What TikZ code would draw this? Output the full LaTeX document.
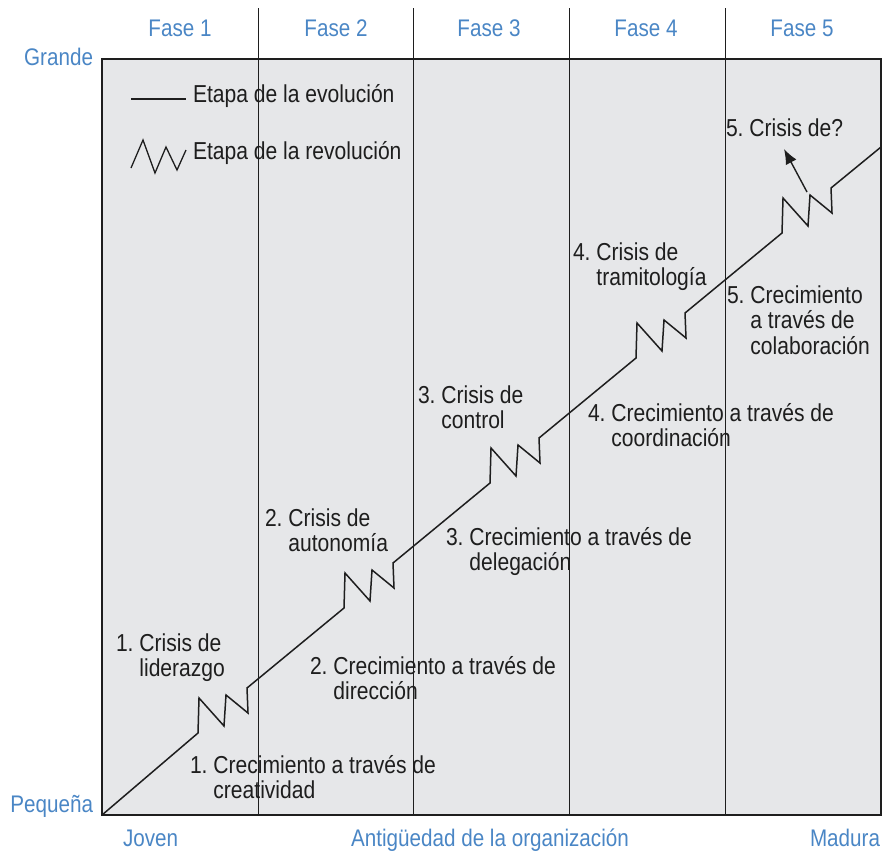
\documentclass[tikz,border=0pt]{standalone}
\usepackage{fontspec}
\setmainfont{Liberation Sans}[FakeStretch=0.86]
\usetikzlibrary{arrows.meta}
\definecolor{fasblue}{RGB}{74,134,197}
\definecolor{boxgray}{RGB}{230,231,233}
\definecolor{inkc}{RGB}{30,30,30}
\newcommand\hlbl[3]{\begin{tabular}[t]{@{}l@{}}#1 #2\\\phantom{#1 }#3\end{tabular}}
\begin{document}
\begin{tikzpicture}[x=1pt,y=-1pt,
  every node/.style={inner sep=0pt,outer sep=0pt},
  bluetxt/.style={text=fasblue,font=\fontsize{24}{25}\selectfont\frenchspacing},
  blacktxt/.style={text=inkc,font=\fontsize{24.5}{25}\selectfont\frenchspacing,anchor=base west},
  phaseline/.style={draw=inkc,line width=0.9pt},
  mainline/.style={draw=inkc,line width=1.5pt,line join=miter},
  zz/.style={insert path={-- ++(1,-35) -- ++(25,28) -- ++(2,-31) -- ++(22,18) -- ++(-1,-25)}}]
\useasboundingbox (0,0) rectangle (882,852);
% box
\filldraw[fill=boxgray,draw=inkc,line width=1.9pt] (102,59) rectangle (881,815);
% phase separators
\foreach \xx in {258,413,569,725} \draw[phaseline] (\xx,8) -- (\xx,815);
% phase labels
\node[bluetxt,anchor=base] (fase1) at (180,36) {Fase 1};
\node[bluetxt,anchor=base] (fase2) at (336,36) {Fase 2};
\node[bluetxt,anchor=base] (fase3) at (489,36) {Fase 3};
\node[bluetxt,anchor=base] (fase4) at (646,36) {Fase 4};
\node[bluetxt,anchor=base] (fase5) at (802,36) {Fase 5};
\node[bluetxt,anchor=base east] (grande) at (93,65) {Grande};
\node[bluetxt,anchor=base east] (pequena) at (93,812) {Pequeña};
\node[bluetxt,anchor=base west] (joven) at (123,846) {Joven};
\node[bluetxt,anchor=base] (antig) at (490,846) {Antigüedad de la organización};
\node[bluetxt,anchor=base east] (madura) at (880,846) {Madura};
% legend
\coordinate (la) at (131,99);
\coordinate (lb) at (186,99);
\draw[draw=inkc,line width=1.3pt] (la) -- (lb);
\draw[draw=inkc,line width=1.3pt,line join=miter] (131,168) -- (143,140) -- (155,173) -- (166,147) -- (177,170) -- (186,150);
\node[blacktxt] (leg1) at (193,102) {Etapa de la evolución};
\node[blacktxt] (leg2) at (193,159) {Etapa de la revolución};
% main evolution path
\coordinate (O) at (102,815);
\coordinate (S1) at (198,733);
\coordinate (S2) at (344,608);
\coordinate (S3) at (490,483);
\coordinate (S4) at (636,358);
\coordinate (S5) at (782,233);
\coordinate (E) at (881,147);
\draw[mainline] (O) -- (S1) [zz] -- (S2) [zz] -- (S3) [zz] -- (S4) [zz] -- (S5) [zz] -- (E);
% arrow to crisis 5
\coordinate (ar1) at (807,192);
\coordinate (ar2) at (784,149);
\draw[draw=inkc,line width=1.4pt,-{Latex[length=15pt,width=12pt]}] (ar1) -- (ar2);
% labels
\node[blacktxt] (c1) at (116,651) {\hlbl{1.}{Crisis de}{liderazgo}};
\node[blacktxt] (g1) at (190,773) {\hlbl{1.}{Crecimiento a través de}{creatividad}};
\node[blacktxt] (c2) at (265,526) {\hlbl{2.}{Crisis de}{autonomía}};
\node[blacktxt] (g2) at (310,674) {\hlbl{2.}{Crecimiento a través de}{dirección}};
\node[blacktxt] (c3) at (418,403) {\hlbl{3.}{Crisis de}{control}};
\node[blacktxt] (g3) at (446,545) {\hlbl{3.}{Crecimiento a través de}{delegación}};
\node[blacktxt] (c4) at (573,260) {\hlbl{4.}{Crisis de}{tramitología}};
\node[blacktxt] (g4) at (588,421) {\hlbl{4.}{Crecimiento a través de}{coordinación}};
\node[blacktxt] (c5) at (726,136) {5. Crisis de?};
\node[blacktxt] (g5) at (727,303) {\begin{tabular}[t]{@{}l@{}}5. Crecimiento\\\phantom{5. }a través de\\\phantom{5. }colaboración\end{tabular}};
\end{tikzpicture}
\end{document}
